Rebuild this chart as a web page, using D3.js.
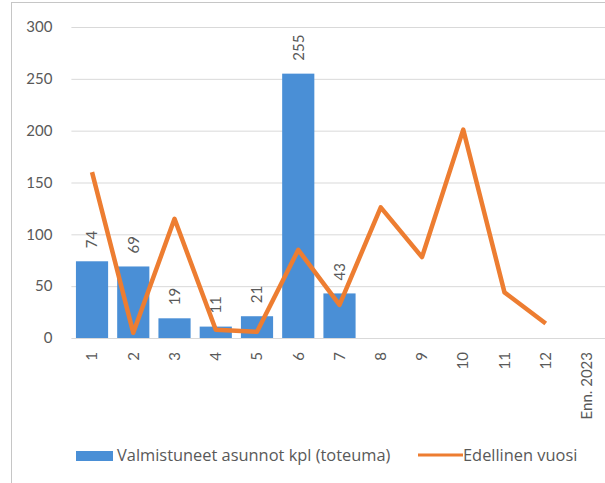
<!DOCTYPE html>
<html>
<head>
<meta charset="utf-8">
<script src="https://cdn.jsdelivr.net/npm/d3@7"></script>
<style>
  html, body { margin: 0; padding: 0; background: #fff; }
  svg { display: block; font-family: Lato, "Open Sans", sans-serif; }
</style>
</head>
<body>
<svg id="chart" width="605" height="483"></svg>
<script>
// chart data
const categories = ['1', '2', '3', '4', '5', '6', '7', '8', '9', '10', '11', '12', 'Enn. 2023'];
const toteuma = [74, 69, 19, 11, 21, 255, 43];
const edellinen = [160, 5, 115, 8, 6, 85, 32, 126, 78, 201, 44, 14];
const yTicks = [0, 50, 100, 150, 200, 250, 300];
const seriesNames = ['Valmistuneet asunnot kpl (toteuma)', 'Edellinen vuosi'];

const blue = '#4a8fd6';
const orange = '#ed7d31';
const textColor = '#595959';

const svg = d3.select('#chart');

// outer frame of the pasted chart
svg.append('rect')
    .attr('x', 11.5).attr('y', 2.5)
    .attr('width', 620).attr('height', 500)
    .attr('fill', 'none')
    .attr('stroke', '#c6c6c6');

const x = d3.scaleBand()
    .domain(categories)
    .range([71.4, 607.6])
    .paddingInner(0.22)
    .paddingOuter(0.11);

const y = d3.scaleLinear()
    .domain([0, 300])
    .range([338, 27]);

// grid + y labels
const yAxis = d3.axisLeft(y)
    .tickValues(yTicks)
    .tickSize(-(607.6 - 71.4))
    .tickPadding(19);

const gy = svg.append('g')
    .attr('transform', 'translate(71.4,0)')
    .call(yAxis);
gy.select('.domain').remove();
gy.selectAll('.tick line').attr('stroke', '#d9d9d9');
gy.selectAll('.tick text')
    .attr('fill', textColor)
    .style('font-size', '15px')
    .style('font-family', 'Lato');

// x labels, rotated
const xAxis = d3.axisBottom(x).tickSize(0).tickPadding(0);
const gx = svg.append('g')
    .attr('transform', `translate(0,${y(0)})`)
    .call(xAxis);
gx.select('.domain').remove();
gx.selectAll('.tick text')
    .attr('transform', 'rotate(-90)')
    .attr('x', -14)
    .attr('y', 0)
    .attr('dy', '0.35em')
    .attr('text-anchor', 'end')
    .attr('fill', textColor)
    .style('font-size', '15px')
    .style('font-family', 'Lato');

// bars
svg.append('g')
    .selectAll('rect')
    .data(toteuma)
    .join('rect')
    .attr('x', (d, i) => x(categories[i]))
    .attr('y', d => y(d))
    .attr('width', x.bandwidth())
    .attr('height', d => y(0) - y(d))
    .attr('fill', blue);

// bar value labels
svg.append('g')
    .selectAll('text')
    .data(toteuma)
    .join('text')
    .attr('transform', (d, i) => `translate(${x(categories[i]) + x.bandwidth() / 2},${y(d) - 13}) rotate(-90)`)
    .attr('dy', '0.35em')
    .attr('text-anchor', 'start')
    .attr('fill', textColor)
    .style('font-size', '15px')
    .text(d => d);

// previous year line
const line = d3.line()
    .x((d, i) => x(categories[i]) + x.bandwidth() / 2)
    .y(d => y(d));

svg.append('path')
    .attr('d', line(edellinen))
    .attr('fill', 'none')
    .attr('stroke', orange)
    .attr('stroke-width', 4.5)
    .attr('stroke-linejoin', 'round');

// legend
const legend = svg.append('g').attr('class', 'legend');
legend.append('rect')
    .attr('x', 76).attr('y', 451)
    .attr('width', 37).attr('height', 10)
    .attr('fill', blue);
legend.append('text')
    .attr('x', 117).attr('y', 455)
    .attr('dy', '0.35em')
    .attr('fill', textColor)
    .style('font-family', '"Open Sans"')
    .style('font-size', '16.4px')
    .text(seriesNames[0]);
legend.append('line')
    .attr('x1', 418).attr('x2', 463)
    .attr('y1', 455).attr('y2', 455)
    .attr('stroke', orange)
    .attr('stroke-width', 3);
legend.append('text')
    .attr('x', 463).attr('y', 455)
    .attr('dy', '0.35em')
    .attr('fill', textColor)
    .style('font-family', '"Open Sans"')
    .style('font-size', '16.4px')
    .text(seriesNames[1]);
</script>
</body>
</html>
